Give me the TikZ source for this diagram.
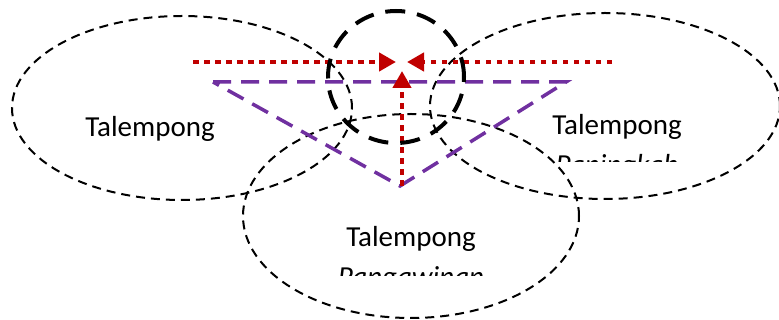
\documentclass[tikz,border=0pt]{standalone}
\usepackage{fontspec}
\setmainfont{Carlito}
\usetikzlibrary{shapes.geometric,arrows.meta}
\definecolor{darkred}{HTML}{C00000}
\definecolor{violet}{HTML}{7030A0}
\tikzset{
  ring/.style={ellipse, draw=black, line width=2pt, dash pattern=on 9pt off 6pt, inner sep=0pt},
  focus/.style={ellipse, draw=black, line width=4pt, dash pattern=on 20pt off 12pt, inner sep=0pt},
  flow/.style={draw=darkred, line width=4.5pt, dash pattern=on 5.5pt off 5.5pt,
    -{Triangle[length=17pt,width=18pt]}},
  link/.style={draw=violet, line width=3.5pt, dash pattern=on 18pt off 10pt},
  label/.style={anchor=base, inner sep=0pt, font=\fontsize{29}{34}\selectfont},
  sublabel/.style={label, font=\fontsize{29}{34}\selectfont\itshape}
}
\begin{document}
\begin{tikzpicture}[x=1pt,y=-1pt]
\useasboundingbox (0,0) rectangle (779,320);

% the three groups
\node[ring, minimum width=340pt, minimum height=184pt] (left) at (182,108) {};
\node[ring, minimum width=350pt, minimum height=186pt] (right) at (605,106) {};
\node[ring, minimum width=336pt, minimum height=204pt] (bottom) at (411,216) {};

% group names
\node[label] (tl) at (150,137) {Talempong};
\node[label] (tr) at (617,135) {Talempong};
\node[label] (tb) at (411,247) {Talempong};
\begin{scope}
  \clip (400,140) rectangle (779,162);
  \node[sublabel] (sr) at (617,175) {Paningkah};
\end{scope}
\begin{scope}
  \clip (240,250) rectangle (600,276);
  \node[sublabel] (sb) at (411,287) {Pangawinan};
\end{scope}

% purple triangle linking the groups
\coordinate (pl) at (213,82);
\coordinate (pr) at (566,82);
\coordinate (pb) at (400,186);
\draw[link] (pl) -- (pr) -- (pb) -- cycle;

% red arrows into the centre
\coordinate (al) at (193,62);
\coordinate (alt) at (396,62);
\coordinate (ar) at (612,62);
\coordinate (art) at (407,62);
\coordinate (ab) at (402,186);
\coordinate (abt) at (402,71);
\draw[flow] (al) -- (alt);
\draw[flow] (ar) -- (art);
\draw[flow] (ab) -- (abt);

% centre circle
\node[focus, minimum width=136pt, minimum height=132pt] (centre) at (396,77) {};
\end{tikzpicture}
\end{document}
